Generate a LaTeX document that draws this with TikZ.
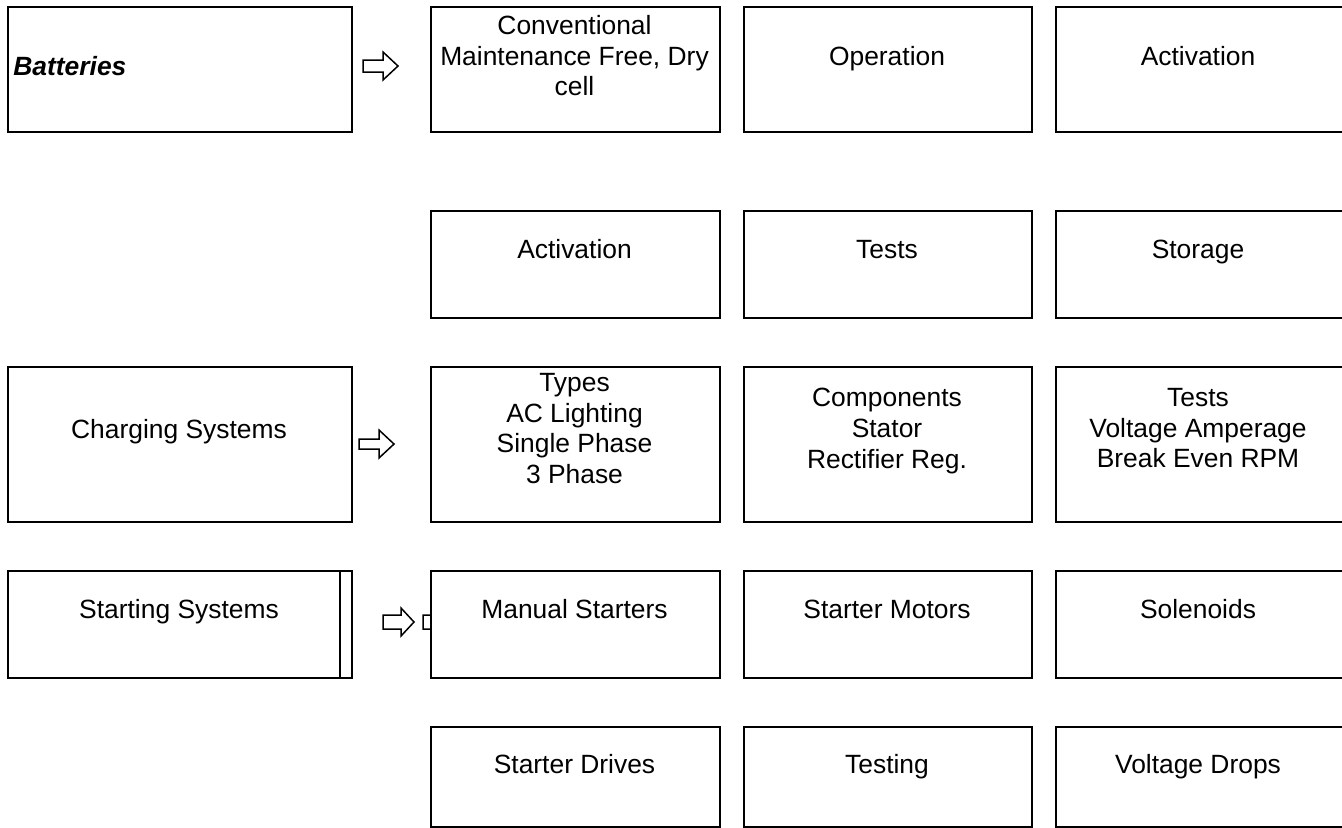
\documentclass[tikz,border=0pt]{standalone}
\usepackage{fontspec}
\setmainfont{Liberation Sans}
\newcommand\blkarrow[6]{% name, x tail, x head start, x tip, y centre, shaft half
  \coordinate (#1) at (#2,#5);
  \draw[arrowline] (#2,#5-#6) -- (#3,#5-#6) -- (#3,#5-14) -- (#4,#5) -- (#3,#5+14) -- (#3,#5+#6) -- (#2,#5+#6) -- cycle;}
\begin{document}
\begin{tikzpicture}[x=0.5pt,y=-0.5pt,
  box/.style={draw=black, line width=1.1pt, fill=white, inner sep=0pt, anchor=north west},
  lbl/.style={font=\fontsize{13.2}{15.3}\selectfont, align=center, inner sep=0pt, anchor=base},
  mlbl/.style={font=\fontsize{13.2}{15.3}\selectfont, align=center, inner sep=0pt, anchor=north},
  arrowline/.style={draw=black, line width=0.75pt, fill=white, line join=miter}]
\useasboundingbox (0,0) rectangle (1342,827);
% block arrows (drawn first so boxes cover hidden parts)
\blkarrow{a1}{363}{383}{398}{66}{6}
\blkarrow{a2}{359}{379}{394}{444}{5}
\blkarrow{a3}{383}{401}{414}{622}{7}
\blkarrow{a4}{423}{441}{454}{622}{7}
% left column
\node[box, minimum width=172pt, minimum height=62.5pt] (bat) at (7,6) {};
\node[box, minimum width=172pt, minimum height=77.5pt] (chg) at (7,366) {};
\node[box, minimum width=172pt, minimum height=53.5pt] (sta) at (7,570) {};
\draw[line width=1.1pt] ([xshift=-6.5pt]sta.north east) -- ([xshift=-6.5pt]sta.south east);
% row 1
\node[box, minimum width=144.5pt, minimum height=62.5pt] (r1a) at (430,6) {};
\node[box, minimum width=144pt, minimum height=62.5pt] (r1b) at (743,6) {};
\node[box, minimum width=144pt, minimum height=62.5pt] (r1c) at (1055,6) {};
% row 2
\node[box, minimum width=144.5pt, minimum height=53.5pt] (r2a) at (430,210) {};
\node[box, minimum width=144pt, minimum height=53.5pt] (r2b) at (743,210) {};
\node[box, minimum width=144pt, minimum height=53.5pt] (r2c) at (1055,210) {};
% row 3
\node[box, minimum width=144.5pt, minimum height=77.5pt] (r3a) at (430,366) {};
\node[box, minimum width=144pt, minimum height=77.5pt] (r3b) at (743,366) {};
\node[box, minimum width=144pt, minimum height=77.5pt] (r3c) at (1055,366) {};
% row 4
\node[box, minimum width=144.5pt, minimum height=53.5pt] (r4a) at (430,570) {};
\node[box, minimum width=144pt, minimum height=53.5pt] (r4b) at (743,570) {};
\node[box, minimum width=144pt, minimum height=53.5pt] (r4c) at (1055,570) {};
% row 5
\node[box, minimum width=144.5pt, minimum height=50pt] (r5a) at (430,726) {};
\node[box, minimum width=144pt, minimum height=50pt] (r5b) at (743,726) {};
\node[box, minimum width=144pt, minimum height=50pt] (r5c) at (1055,726) {};
% labels
\node[lbl, anchor=base west] (tbat) at (13,75) {\textbf{\textit{Batteries}}};
\node[lbl] (tchg) at (179,438) {Charging Systems};
\node[lbl] (tsta) at (179,618) {Starting Systems};
\node[mlbl] (t1a) at (574.5,15) {Conventional\\Maintenance Free, Dry\\cell};
\node[lbl] (t1b) at (887,65) {Operation};
\node[lbl] (t1c) at (1198,65) {Activation};
\node[lbl] (t2a) at (574.5,258) {Activation};
\node[lbl] (t2b) at (887,258) {Tests};
\node[lbl] (t2c) at (1198,258) {Storage};
\node[mlbl] (t3a) at (574.5,373) {Types\\AC Lighting\\Single Phase\\3 Phase};
\node[mlbl] (t3b) at (887,388) {Components\\Stator\\Rectifier Reg.};
\node[mlbl] (t3c) at (1198,388) {Tests\\Voltage Amperage\\Break Even RPM};
\node[lbl] (t4a) at (574.5,618) {Manual Starters};
\node[lbl] (t4b) at (887,618) {Starter Motors};
\node[lbl] (t4c) at (1198,618) {Solenoids};
\node[lbl] (t5a) at (574.5,773) {Starter Drives};
\node[lbl] (t5b) at (887,773) {Testing};
\node[lbl] (t5c) at (1198,773) {Voltage Drops};
\end{tikzpicture}
\end{document}
